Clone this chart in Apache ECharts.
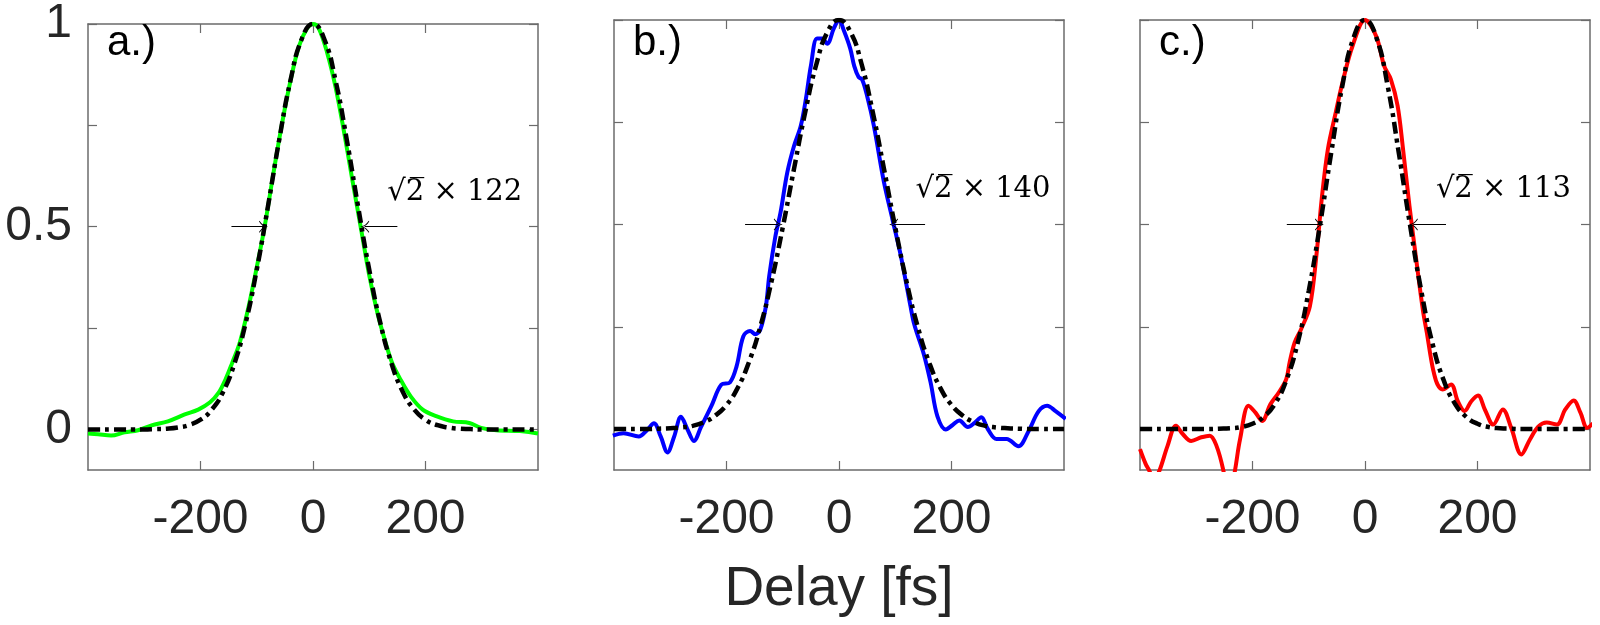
<!DOCTYPE html>
<html>
<head>
<meta charset="utf-8">
<script src="https://cdn.jsdelivr.net/npm/echarts@6/dist/echarts.min.js"></script>
<style>
  html, body { margin: 0; padding: 0; background: #fff; }
  #chart { width: 1600px; height: 625px; }
</style>
</head>
<body>
<div id="chart"></div>
<script>
// measured traces (delay in fs, normalised signal)
var delayA = [-400,-382,-359,-335,-311,-287,-258,-228,-204,-183,-168,-156,-144,-130,-115,-100,-86,-70,-55,-40,-25,-10,0,10,25,40,55,70,86,100,115,130,141,156,174,195,219,249,278,299,326,368,400];
var signalA = [-0.010,-0.012,-0.015,-0.007,-0.002,0.010,0.020,0.037,0.049,0.067,0.090,0.122,0.163,0.215,0.300,0.400,0.500,0.635,0.755,0.860,0.945,0.990,1.000,0.990,0.930,0.845,0.735,0.615,0.490,0.380,0.285,0.210,0.163,0.122,0.081,0.049,0.033,0.020,0.016,0.004,-0.002,-0.004,-0.010];

var delayB = [-402,-383,-356,-341,-329,-317,-305,-293,-281,-269,-258,-245,-227,-209,-194,-182,-170,-158,-149,-140,-130,-124,-113,-104,-92,-80,-68,-59,-50,-39,-30,-21,-9,0,9,20,27,35,41,50,62,80,95,110,127,134,151,163,175,190,202,214,229,241,253,265,280,298,319,337,355,370,385,403];
var signalB = [-0.016,-0.010,-0.018,-0.002,0.014,-0.018,-0.057,-0.018,0.030,-0.002,-0.029,0.006,0.056,0.109,0.114,0.154,0.227,0.240,0.232,0.243,0.300,0.375,0.472,0.529,0.627,0.692,0.741,0.806,0.888,0.955,0.955,0.942,0.980,1.000,0.973,0.930,0.888,0.860,0.855,0.814,0.741,0.603,0.513,0.423,0.301,0.255,0.182,0.113,0.031,-0.001,0.010,0.021,0.005,0.015,0.029,-0.001,-0.024,-0.024,-0.042,-0.005,0.044,0.057,0.044,0.025];

var delayC = [-400,-390,-384,-375,-365,-351,-336,-324,-309,-291,-276,-264,-252,-242,-231,-222,-207,-195,-183,-168,-153,-140,-134,-125,-114,-98,-86,-77,-66,-52,-40,-22,0,20,34,46,58,67,79,91,103,110,117,122,129,138,153,165,177,189,201,213,228,245,260,278,293,308,323,341,356,371,383,395,405];
var signalC = [-0.049,-0.085,-0.100,-0.125,-0.100,-0.041,0.008,-0.012,-0.029,-0.020,-0.016,-0.041,-0.100,-0.180,-0.100,-0.024,0.057,0.041,0.020,0.061,0.090,0.122,0.163,0.212,0.243,0.300,0.430,0.562,0.684,0.774,0.847,0.937,1.000,0.960,0.888,0.855,0.790,0.692,0.546,0.415,0.290,0.235,0.175,0.140,0.109,0.097,0.109,0.068,0.044,0.068,0.082,0.048,0.011,0.048,0.003,-0.062,-0.026,0.006,0.016,0.011,0.048,0.070,0.040,0.003,0.014];

// gaussian fits (dash-dot), read on a 20 fs grid
var fitDelay = [-400,-380,-360,-340,-320,-300,-280,-260,-240,-220,-200,-180,-160,-140,-120,-100,-80,-60,-40,-20,0,20,40,60,80,100,120,140,160,180,200,220,240,260,280,300,320,340,360,380,400];
var fitA = [0,0,0,0,0,0,0.001,0.002,0.005,0.011,0.024,0.049,0.092,0.161,0.261,0.394,0.551,0.715,0.861,0.963,1,0.963,0.861,0.715,0.551,0.394,0.261,0.161,0.092,0.049,0.024,0.011,0.005,0.002,0.001,0,0,0,0,0,0];
var fitB = [0,0,0,0,0.001,0.002,0.004,0.008,0.017,0.033,0.059,0.101,0.164,0.250,0.361,0.493,0.636,0.775,0.893,0.972,1,0.972,0.893,0.775,0.636,0.493,0.361,0.250,0.164,0.101,0.059,0.033,0.017,0.008,0.004,0.002,0.001,0,0,0,0];
var fitC = [0,0,0,0,0,0,0,0.001,0.002,0.005,0.013,0.030,0.062,0.119,0.209,0.338,0.499,0.676,0.841,0.958,1,0.958,0.841,0.676,0.499,0.338,0.209,0.119,0.062,0.030,0.013,0.005,0.002,0.001,0,0,0,0,0,0,0];

// FWHM markers: [from, tip] at half maximum
var arrowsA = [[-145, -88], [150, 92]];
var arrowsB = [[-167, -108], [153, 97]];
var arrowsC = [[-139, -81], [144, 86]];
var fwhmText = ['√2̅ × 122', '√2̅ × 140', '√2̅ × 113'];
var fwhmAnchor = [[132, 0.585], [136, 0.585], [126, 0.585]];

var panelLabels = ['a.)', 'b.)', 'c.)'];
var xTicks = [-200, 0, 200];
var yTicks = [0, 0.25, 0.5, 0.75, 1];
var yTickLabels = [0, 0.5, 1];

var lineColors = ['#00ff00', '#0000ff', '#ff0000'];

var chart = echarts.init(document.getElementById('chart'));

function zip(xs, ys) {
    var out = [];
    for (var i = 0; i < xs.length; i++) out.push([xs[i], ys[i]]);
    return out;
}

var axisGray = '#6b6b6b';
var textColor = '#262626';
var sans = 'Liberation Sans, Arial, sans-serif';
var chevron = 'path://M5,0 Q5.6,6 10,10 L9.4,10.6 Q5.4,7.2 5,2.2 Q4.6,7.2 0.6,10.6 L0,10 Q4.4,6 5,0 Z';

var lefts = [88, 614, 1140];
var grids = [], xAxes = [], yAxes = [], series = [], titles = [];
var signals = [zip(delayA, signalA), zip(delayB, signalB), zip(delayC, signalC)];
var fits = [zip(fitDelay, fitA), zip(fitDelay, fitB), zip(fitDelay, fitC)];
var arrows = [arrowsA, arrowsB, arrowsC];

for (var p = 0; p < 3; p++) {
    grids.push({ left: lefts[p], top: 20, width: 450, height: 450, containLabel: false });

    var xBase = {
        type: 'value', gridIndex: p, min: -400, max: 400,
        axisLine: { show: true, onZero: false, lineStyle: { color: axisGray, width: 1.5 } },
        axisTick: { inside: true, length: 9, customValues: xTicks, lineStyle: { color: axisGray, width: 1.2 } },
        splitLine: { show: false }
    };
    xAxes.push(Object.assign({}, xBase, {
        position: 'bottom',
        axisLabel: { customValues: xTicks, fontSize: 48, fontFamily: sans, color: textColor, margin: 26 },
        name: p === 1 ? 'Delay [fs]' : '',
        nameLocation: 'middle', nameGap: 92,
        nameTextStyle: { fontSize: 55, fontFamily: sans, color: textColor }
    }));
    xAxes.push(Object.assign({}, xBase, { position: 'top', axisLabel: { show: false } }));

    var yBase = {
        type: 'value', gridIndex: p, min: -0.1, max: 1,
        axisLine: { show: true, onZero: false, lineStyle: { color: axisGray, width: 1.5 } },
        axisTick: { inside: true, length: 9, customValues: yTicks, lineStyle: { color: axisGray, width: 1.2 } },
        splitLine: { show: false }
    };
    yAxes.push(Object.assign({}, yBase, {
        position: 'left',
        axisLabel: { show: p === 0, customValues: yTickLabels, fontSize: 48, fontFamily: sans, color: textColor, margin: 16 }
    }));
    yAxes.push(Object.assign({}, yBase, { position: 'right', axisLabel: { show: false } }));

    titles.push({
        text: panelLabels[p], left: lefts[p] + 19, top: 22, padding: 0,
        textStyle: { fontSize: 42, fontWeight: 'normal', fontFamily: sans, color: '#000' }
    });

    series.push({
        type: 'line', xAxisIndex: p * 2, yAxisIndex: p * 2,
        data: signals[p], showSymbol: false, smooth: 0.35, clip: true,
        lineStyle: { color: lineColors[p], width: 4 },
        z: 2,
        markPoint: {
            silent: true, symbol: 'circle', symbolSize: 0,
            data: [{ coord: fwhmAnchor[p] }],
            label: {
                show: true, position: 'right', distance: 0,
                formatter: fwhmText[p],
                fontFamily: 'DejaVu Serif, Liberation Serif, serif',
                fontSize: 29, color: '#000'
            }
        }
    });

    var ar = arrows[p];
    series.push({
        type: 'line', xAxisIndex: p * 2, yAxisIndex: p * 2,
        data: fits[p], showSymbol: false, smooth: true,
        lineStyle: { color: '#000', width: 4.5, type: [12, 5, 4, 5] },
        z: 3,
        markLine: {
            silent: true, animation: false,
            symbol: ['none', chevron], symbolSize: [12, 9],
            label: { show: false },
            lineStyle: { color: '#000', width: 1.2, type: 'solid' },
            data: [
                [{ coord: [ar[0][0], 0.5] }, { coord: [ar[0][1], 0.5] }],
                [{ coord: [ar[1][0], 0.5] }, { coord: [ar[1][1], 0.5] }]
            ]
        }
    });
}

chart.setOption({
    backgroundColor: '#fff',
    animation: false,
    title: titles,
    grid: grids,
    xAxis: xAxes,
    yAxis: yAxes,
    series: series
});
</script>
</body>
</html>
